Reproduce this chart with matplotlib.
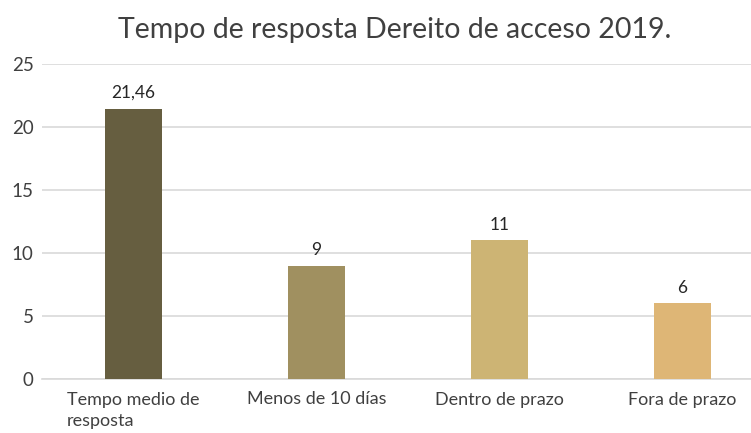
import numpy as np
import matplotlib.pyplot as plt

categories = ["Tempo medio de\nresposta", "Menos de 10 días", "Dentro de prazo", "Fora de prazo"]
values = [21.46, 9, 11, 6]
value_labels = ["21,46", "9", "11", "6"]
colors = ["#665E40", "#A09060", "#CDB474", "#DEB676"]

plt.rcParams['font.family'] = ['Lato', 'DejaVu Sans']

fig = plt.figure(figsize=(7.51, 4.33), dpi=100)
ax = fig.add_axes([42 / 751, 54 / 433, 732 / 751, 315 / 433])

x = np.arange(len(categories))
bars = ax.bar(x, values, width=0.31, color=colors, zorder=3)

for b, lab in zip(bars, value_labels):
    ax.text(b.get_x() + b.get_width() / 2, b.get_height() + 0.6, lab,
            ha='center', va='bottom', fontsize=12.5, color='#262626')

ax.set_xlim(-0.5, 3.5)
ax.set_ylim(0, 25)
ax.set_yticks([0, 5, 10, 15, 20, 25])
ax.set_xticks(x)
ax.set_xticklabels(categories, fontsize=13, color='#404040')
for t in ax.get_xticklabels():
    t.set_horizontalalignment('center')
    t.set_multialignment('left')
    t.set_linespacing(1.4)
ax.tick_params(axis='y', labelsize=13.5, labelcolor='#404040', length=0, pad=6)
ax.tick_params(axis='x', length=0, pad=9)
ax.yaxis.grid(True, color='#D9D9D9', linewidth=1.2, zorder=0)
for s in ['top', 'right', 'left']:
    ax.spines[s].set_visible(False)
ax.spines['bottom'].set_color('#D9D9D9')
ax.spines['bottom'].set_linewidth(1.2)

fig.text(395 / 751, 1 - 30 / 433, "Tempo de resposta Dereito de acceso 2019.",
         ha='center', va='center', fontsize=20.5, color='#404040')

fig.savefig("out.png", dpi=100)
